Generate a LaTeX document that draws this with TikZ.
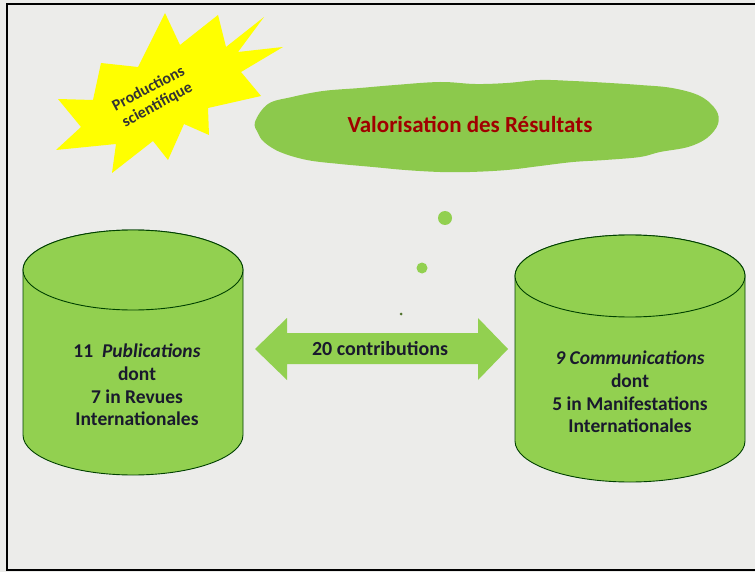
\documentclass[tikz,border=0pt]{standalone}
\usepackage{fontspec}
\setmainfont{Carlito}
\definecolor{bg}{RGB}{236,236,234}
\definecolor{lgreen}{RGB}{146,208,80}
\definecolor{cgreen}{RGB}{140,201,76}
\definecolor{dred}{RGB}{160,0,0}
\definecolor{navy}{RGB}{25,25,45}
\definecolor{starY}{RGB}{255,255,0}
\begin{document}
\begin{tikzpicture}[x=1pt,y=-1pt,
  cyl/.style={fill=lgreen, draw=black!75!green, line width=0.9pt},
  cyltext/.style={font=\fontsize{19.5}{22.8}\selectfont\bfseries, text=navy, align=center},
  dot/.style={fill=lgreen}]
\useasboundingbox (0,0) rectangle (755,572);
\fill[bg] (0,0) rectangle (755,572);
\draw[line width=1.4pt] (757,4) -- (7,4) -- (7,570) -- (757,570);

% star burst
\fill[starY] (165,13) -- (180,45) -- (218,15) -- (226,47) -- (264,17) -- (238,52)
  -- (283,47) -- (241,72) -- (261,96) -- (208,108) -- (209,135) -- (184,124)
  -- (168,160) -- (153,141) -- (112,173) -- (116,144) -- (56,150) -- (81,127)
  -- (58,99) -- (93,100) -- (101,63) -- (138,67) -- cycle;
\node[rotate=28, font=\fontsize{16}{18.5}\selectfont\bfseries, text=black!80, align=center] (prod) at (153,97) {Productions\\scientifique};

% cloud blob
\fill[cgreen] plot[smooth cycle, tension=0.6] coordinates {
  (255,122) (268,104) (292,97) (323,91) (360,88) (395,85) (440,82) (475,84) (507,83)
  (540,80) (573,81) (610,83) (640,85) (672,88) (700,96) (716,110) (718,124)
  (707,138) (688,147) (660,152) (640,157) (605,160) (573,162) (540,166)
  (507,170) (470,172) (440,172) (405,170) (373,167) (340,164) (307,160)
  (280,152) (264,142) (258,133)};
\node[font=\fontsize{23}{26}\selectfont\bfseries, text=dred] (val) at (470,124) {Valorisation des Résultats};

% thought dots
\fill[dot] (445,218) circle[radius=7pt];
\fill[dot] (422,268) circle[radius=5.5pt];
\fill[black!45!lgreen] (401,314) circle[radius=1.5pt];

% left cylinder
\path[cyl] (23,270) -- (23,435) arc[start angle=180, end angle=360, x radius=110pt, y radius=40pt]
  -- (243,270) arc[start angle=0, end angle=180, x radius=110pt, y radius=40pt] -- cycle;
\path[cyl] (133,270) ellipse[x radius=110pt, y radius=40pt];
\node[cyltext] (pubtxt) at (137,385) {11~~\textit{Publications}\\dont\\7 in Revues\\Internationales};

% right cylinder
\path[cyl] (515,276) -- (515,441) arc[start angle=180, end angle=360, x radius=115pt, y radius=41pt]
  -- (745,276) arc[start angle=0, end angle=180, x radius=115pt, y radius=41pt] -- cycle;
\path[cyl] (630,276) ellipse[x radius=115pt, y radius=41pt];
\node[cyltext] (comtxt) at (630,392) {\textit{9 Communications}\\dont\\5 in Manifestations\\Internationales};

% double arrow
\fill[lgreen] (255,349) -- (287,318) -- (287,333) -- (478,333) -- (478,318) -- (508,349)
  -- (478,380) -- (478,364) -- (287,364) -- (287,380) -- cycle;
\node[font=\fontsize{20}{22}\selectfont\bfseries, text=navy] (contrib) at (380,349) {20 contributions};
\end{tikzpicture}
\end{document}
